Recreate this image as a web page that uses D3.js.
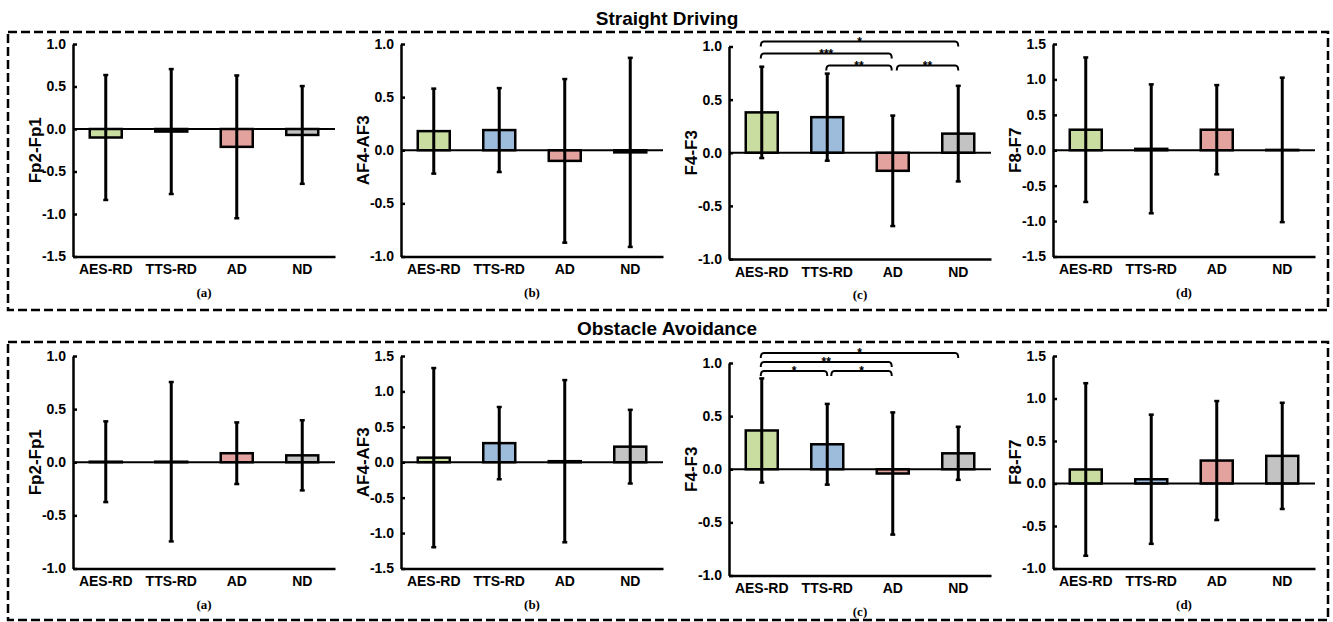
<!DOCTYPE html>
<html>
<head>
<meta charset="utf-8">
<script src="https://cdn.jsdelivr.net/npm/d3@7"></script>
<style>
  body { margin: 0; background: #fff; }
  svg { display: block; }
</style>
</head>
<body>
<svg id="chart"></svg>
<script>
// categories and labels
const groups = ["AES-RD", "TTS-RD", "AD", "ND"];
const colors = ["#c9dda0", "#9dbcdc", "#e3a29e", "#c3c3c3"];
const rowTitles = ["Straight Driving", "Obstacle Avoidance"];
const channels = ["Fp2-Fp1", "AF4-AF3", "F4-F3", "F8-F7"];
const captions = ["(a)", "(b)", "(c)", "(d)"];

// straight driving: mean and sd per channel (rows) and group (cols)
const straightMeans = [
  [-0.10, -0.03, -0.21, -0.07],
  [0.18, 0.19, -0.10, -0.02],
  [0.38, 0.335, -0.17, 0.18],
  [0.29, 0.02, 0.29, 0.005]
];
const straightSD = [
  [0.735, 0.735, 0.84, 0.575],
  [0.40, 0.395, 0.77, 0.89],
  [0.43, 0.41, 0.52, 0.45],
  [1.02, 0.91, 0.63, 1.02]
];
const straightDomains = [[-1.5, 1.0], [-1.0, 1.0], [-1.0, 1.0], [-1.5, 1.5]];

// obstacle avoidance
const obstacleMeans = [
  [0.005, 0.005, 0.085, 0.065],
  [0.065, 0.27, 0.015, 0.22],
  [0.365, 0.235, -0.04, 0.15],
  [0.165, 0.05, 0.27, 0.325]
];
const obstacleSD = [
  [0.38, 0.75, 0.29, 0.33],
  [1.265, 0.51, 1.145, 0.52],
  [0.49, 0.38, 0.575, 0.25],
  [1.015, 0.76, 0.70, 0.625]
];
const obstacleDomains = [[-1.0, 1.0], [-1.5, 1.5], [-1.0, 1.0], [-1.0, 1.5]];

// significance brackets (only on F4-F3)
const straightSig = [
  { a: 0, b: 3, label: "*", level: 0 },
  { a: 0, b: 2, label: "***", level: 1 },
  { a: 1, b: 2, label: "**", level: 2 },
  { a: 2, b: 3, label: "**", level: 2 }
];
const obstacleSig = [
  { a: 0, b: 3, label: "*", level: 0 },
  { a: 0, b: 2, label: "**", level: 1 },
  { a: 0, b: 1, label: "*", level: 2 },
  { a: 1, b: 2, label: "*", level: 2 }
];

// layout
const width = 1333, height = 622;
const axisX = [73, 401, 729, 1053];
const plotW = 262;
const rows = [
  { boxY: 32, boxH: 278, titleY: 25, tops: [44, 44, 46.5, 44], h: 212.5,
    means: straightMeans, sd: straightSD, domains: straightDomains, sig: straightSig, sigOff: [-5, 7, 19] },
  { boxY: 342, boxH: 278, titleY: 335, tops: [356, 356, 363, 356], h: 212.5,
    means: obstacleMeans, sd: obstacleSD, domains: obstacleDomains, sig: obstacleSig, sigOff: [-10, -1, 8] }
];

const sans = "'Liberation Sans', Arial, sans-serif";
const serif = "'Liberation Serif', 'Times New Roman', serif";

const svg = d3.select("#chart").attr("width", width).attr("height", height);
svg.append("rect").attr("width", width).attr("height", height).attr("fill", "#fff");

rows.forEach((row, r) => {
  svg.append("rect")
    .attr("x", 8).attr("y", row.boxY)
    .attr("width", 1320).attr("height", row.boxH)
    .attr("fill", "none").attr("stroke", "#000")
    .attr("stroke-width", 2.5).attr("stroke-dasharray", "9,4");

  svg.append("text")
    .attr("x", 667).attr("y", row.titleY)
    .attr("text-anchor", "middle")
    .style("font-family", sans).style("font-weight", 700).style("font-size", "19px")
    .text(rowTitles[r]);

  channels.forEach((ch, c) => {
    const top = row.tops[c];
    const bottom = top + row.h;
    const x0 = axisX[c];
    const g = svg.append("g");

    const x = d3.scaleBand().domain(groups).range([x0, x0 + plotW]);
    const y = d3.scaleLinear().domain(row.domains[c]).range([bottom, top]);

    const data = groups.map((name, i) => ({
      name: name, mean: row.means[c][i], sd: row.sd[c][i], color: colors[i]
    }));
    const bw = 32;

    g.selectAll("rect.bar")
      .data(data)
      .enter()
      .append("rect")
      .attr("class", "bar")
      .attr("x", (d) => x(d.name) + x.bandwidth() / 2 - bw / 2)
      .attr("y", (d) => y(Math.max(0, d.mean)))
      .attr("width", bw)
      .attr("height", (d) => Math.abs(y(d.mean) - y(0)))
      .attr("fill", (d) => d.color)
      .attr("stroke", "#000")
      .attr("stroke-width", 2.5);

    // zero line
    g.append("line")
      .attr("x1", x0).attr("x2", x0 + plotW)
      .attr("y1", y(0)).attr("y2", y(0))
      .attr("stroke", "#000").attr("stroke-width", 2);

    // error bars
    const cx = (d) => x(d.name) + x.bandwidth() / 2;
    g.selectAll("line.err")
      .data(data)
      .enter()
      .append("line")
      .attr("x1", cx).attr("x2", cx)
      .attr("y1", (d) => y(d.mean + d.sd))
      .attr("y2", (d) => y(d.mean - d.sd))
      .attr("stroke", "#000").attr("stroke-width", 3);
    [1, -1].forEach((s) => {
      g.selectAll(null)
        .data(data)
        .enter()
        .append("line")
        .attr("x1", (d) => cx(d) - 2.5).attr("x2", (d) => cx(d) + 2.5)
        .attr("y1", (d) => y(d.mean + s * d.sd))
        .attr("y2", (d) => y(d.mean + s * d.sd))
        .attr("stroke", "#000").attr("stroke-width", 2.5);
    });

    // y axis
    const [lo, hi] = row.domains[c];
    const ticks = d3.range(Math.round(lo * 2), Math.round(hi * 2) + 1).map((v) => v / 2);
    const yAxis = g.append("g")
      .attr("transform", "translate(" + x0 + ",0)")
      .call(d3.axisLeft(y).tickValues(ticks).tickSize(-4).tickSizeOuter(0).tickPadding(7)
        .tickFormat((d) => d.toFixed(1)));
    yAxis.select(".domain").attr("stroke-width", 2.5);
    yAxis.selectAll(".tick line").attr("stroke-width", 2.5);
    yAxis.selectAll("text")
      .style("font-family", sans).style("font-weight", 700).style("font-size", "14px")
      .attr("fill", "#000");

    // x axis
    const xAxis = g.append("g")
      .attr("transform", "translate(0," + bottom + ")")
      .call(d3.axisBottom(x).tickSize(0).tickPadding(8));
    xAxis.select(".domain").attr("stroke-width", 2.5);
    xAxis.selectAll("text")
      .style("font-family", sans).style("font-weight", 700).style("font-size", "14px")
      .attr("fill", "#000");

    // y label
    g.append("text")
      .attr("transform", "translate(" + (x0 - 38) + "," + (top + bottom) / 2 + ") rotate(-90)")
      .attr("text-anchor", "middle")
      .attr("dy", "0.35em")
      .style("font-family", sans).style("font-weight", 700).style("font-size", "17px")
      .text(ch);

    // caption
    g.append("text")
      .attr("x", x0 + plotW / 2).attr("y", bottom + 40)
      .attr("text-anchor", "middle")
      .style("font-family", serif).style("font-weight", 700).style("font-size", "13px")
      .text(captions[c]);

    // significance brackets
    if (c === 2) {
      row.sig.forEach((s) => {
        const by = top + row.sigOff[s.level];
        const xa = x(groups[s.a]) + x.bandwidth() / 2 - 1;
        const xb = x(groups[s.b]) + x.bandwidth() / 2 + (s.b === 2 ? -1 : 0);
        const xs = s.a === 2 || (s.a === 1 && r === 1) ? xa + 5 : xa;
        const leg = 5;
        g.append("path")
          .attr("d", "M" + xs + "," + (by + leg) + " Q" + xs + "," + by + " " + (xs + 3) + "," + by +
            " L" + (xb - 3) + "," + by + " Q" + xb + "," + by + " " + xb + "," + (by + leg))
          .attr("fill", "none").attr("stroke", "#000").attr("stroke-width", 2);
        g.append("text")
          .attr("x", (xs + xb) / 2).attr("y", by + 4)
          .attr("text-anchor", "middle")
          .style("font-family", sans).style("font-weight", 700).style("font-size", "12px")
          .text(s.label);
      });
    }
  });
});
</script>
</body>
</html>
